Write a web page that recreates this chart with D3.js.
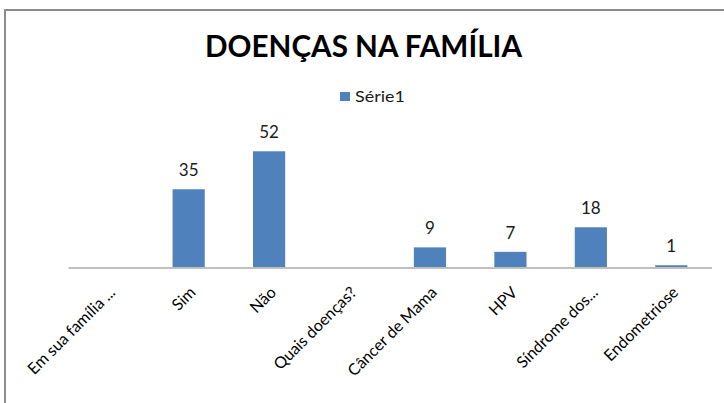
<!DOCTYPE html>
<html>
<head>
<meta charset="utf-8">
<script src="https://cdn.jsdelivr.net/npm/d3@7"></script>
<style>
  body { margin: 0; background: #fff; }
  text { font-family: Lato, "Open Sans", sans-serif; fill: #000; }
</style>
</head>
<body>
<div id="container"></div>
<script>
/* DATA */
const categories = ["Em sua família ...", "Sim", "Não", "Quais doenças?", "Câncer de Mama", "HPV", "Síndrome dos...", "Endometriose"];
const values = [null, 35, 52, null, 9, 7, 18, 1];
const seriesName = "Série1";
const title = "DOENÇAS NA FAMÍLIA";

const width = 724, height = 403;
const data = categories.map((c, i) => ({ cat: c, val: values[i] }));

const svg = d3.select("#container").append("svg")
  .attr("width", width)
  .attr("height", height);

// chart frame (right and bottom edge run off the picture)
svg.append("rect")
  .attr("x", 5).attr("y", 10)
  .attr("width", 800).attr("height", 500)
  .attr("fill", "#fff")
  .attr("stroke", "#8c8c8c")
  .attr("stroke-width", 2);

/* SCALES */
const xScale = d3.scaleBand()
  .domain(categories)
  .range([68, 711.5])
  .padding(0);

const yScale = d3.scaleLinear()
  .domain([0, 60])
  .range([267.5, 133.4]);

const barW = xScale.bandwidth() * 0.4;

// title
svg.append("text")
  .attr("x", 363.5).attr("y", 57)
  .attr("text-anchor", "middle")
  .attr("font-size", 30)
  .attr("font-weight", "bold")
  .attr("textLength", 317)
  .attr("lengthAdjust", "spacingAndGlyphs")
  .text(title);

// legend
svg.append("rect")
  .attr("x", 340).attr("y", 92)
  .attr("width", 10).attr("height", 9)
  .attr("fill", "#4f81bd");
svg.append("text")
  .attr("x", 355).attr("y", 102)
  .attr("font-size", 16)
  .attr("textLength", 50)
  .attr("lengthAdjust", "spacingAndGlyphs")
  .style("fill", "#1a1a1a")
  .text(seriesName);

// bars
svg.selectAll("rect.bar")
  .data(data.filter(d => d.val != null))
  .join("rect")
  .attr("class", "bar")
  .attr("x", d => xScale(d.cat) + (xScale.bandwidth() - barW) / 2)
  .attr("y", d => yScale(d.val))
  .attr("width", barW)
  .attr("height", d => yScale(0) - yScale(d.val))
  .attr("fill", "#4f81bd");

// value labels
svg.selectAll("text.val")
  .data(data.filter(d => d.val != null))
  .join("text")
  .attr("class", "val")
  .attr("x", d => xScale(d.cat) + xScale.bandwidth() / 2)
  .attr("y", d => yScale(d.val) - 13)
  .attr("text-anchor", "middle")
  .attr("font-size", 17)
  .style("fill", "#1a1a1a")
  .text(d => d.val);

// x axis
const xAxis = d3.axisBottom(xScale).tickSize(0).tickPadding(0);
const gx = svg.append("g")
  .attr("transform", `translate(0,${yScale(0)})`)
  .call(xAxis);
gx.select(".domain").attr("stroke", "#bfbfbf").attr("stroke-width", 2);
gx.selectAll(".tick text")
  .attr("font-size", 16)
  .attr("text-anchor", "end")
  .attr("dy", 0)
  .attr("y", 0)
  .attr("transform", "translate(8,26) rotate(-45)")
  .style("font-family", "Lato, 'Open Sans', sans-serif")
  .style("fill", "#000");
</script>
</body>
</html>
